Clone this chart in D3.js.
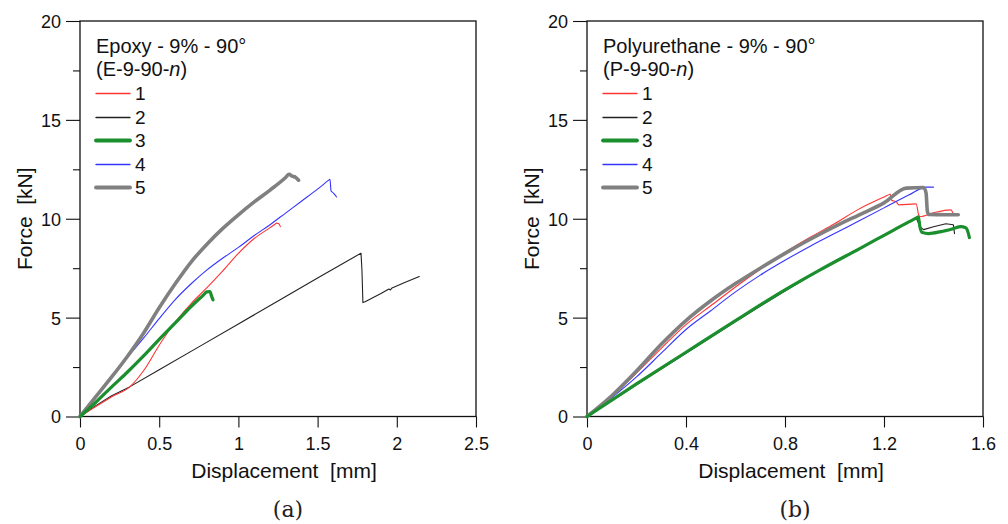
<!DOCTYPE html>
<html><head><meta charset="utf-8">
<script src="https://cdn.jsdelivr.net/npm/d3@7"></script>
<style>
html,body{margin:0;padding:0;background:#fff;}
svg{display:block;font-family:"Liberation Sans",Arial,sans-serif;}
</style></head>
<body>
<svg id="chart" width="1008" height="524"></svg>
<script>
// ---------- data ----------
const seriesNames = ["1","2","3","4","5"];
const seriesColors = ["#ff3434","#222222","#1b8f2e","#3434ff","#808080"];
const seriesWidths = [1.1,1.1,3.2,1.1,3.6];

// Panel (a) Epoxy - 9% - 90°
const eD1 = [0,0.1,0.2,0.316,0.4,0.5,0.58,0.7,0.8,0.9,1.0,1.1,1.2,1.235,1.24,1.255,1.265];
const eF1 = [0,0.5,1.0,1.51,2.3,3.6,4.55,5.7,6.5,7.35,8.25,9.0,9.55,9.75,9.78,9.75,9.6];
const eD2 = [0,0.1,0.2,0.316,0.5,0.75,1.0,1.25,1.5,1.774,1.78,1.786,1.8,1.9,1.95,1.96,1.97,2.05,2.142];
const eF2 = [0,0.55,1.05,1.51,2.36,3.52,4.68,5.84,7.0,8.26,7.4,5.76,5.8,6.22,6.45,6.4,6.5,6.78,7.08];
const eD3 = [0,0.1,0.2,0.3,0.4,0.5,0.6,0.7,0.78,0.8,0.82,0.83,0.84];
const eF3 = [0,0.72,1.5,2.25,3.05,3.9,4.72,5.55,6.15,6.3,6.32,6.1,5.9];
const eD4 = [0,0.1,0.2,0.3,0.4,0.5,0.6,0.7,0.8,0.9,1.0,1.1,1.2,1.3,1.4,1.5,1.57,1.578,1.585,1.6,1.62];
const eF4 = [0,1.0,2.0,3.0,3.95,4.95,5.9,6.7,7.4,8.0,8.55,9.15,9.7,10.3,10.9,11.5,11.95,12.0,11.4,11.3,11.1];
const eD5 = [0,0.1,0.2,0.3,0.4,0.5,0.6,0.7,0.8,0.9,1.0,1.1,1.2,1.3,1.32,1.34,1.36,1.38];
const eF5 = [0,1.0,2.0,3.05,4.2,5.5,6.7,7.8,8.7,9.5,10.2,10.85,11.45,12.1,12.25,12.15,12.1,11.95];

// Panel (b) Polyurethane - 9% - 90°
const pD1 = [0,0.1,0.2,0.3,0.4,0.5,0.6,0.7,0.8,0.9,1.0,1.1,1.2,1.22,1.225,1.23,1.25,1.26,1.33,1.34,1.345,1.4,1.47,1.48];
const pF1 = [0,1.0,2.2,3.45,4.65,5.6,6.55,7.45,8.3,9.05,9.75,10.5,11.1,11.22,11.25,10.95,10.85,10.7,10.75,10.2,10.1,10.3,10.45,10.25];
const pD2 = [0,0.2,0.4,0.6,0.8,1.0,1.2,1.33,1.345,1.36,1.4,1.45,1.48,1.485];
const pF2 = [0,1.6,3.2,4.8,6.35,7.85,9.15,10.05,9.6,9.45,9.6,9.75,9.7,9.25];
const pD3 = [0,0.2,0.4,0.6,0.8,0.94,1.1,1.2,1.3,1.335,1.339,1.345,1.355,1.38,1.43,1.48,1.51,1.53,1.54,1.545];
const pF3 = [0,1.65,3.25,4.85,6.4,7.4,8.48,9.16,9.84,10.07,10.1,9.6,9.3,9.25,9.35,9.5,9.6,9.55,9.3,9.05];
const pD4 = [0,0.1,0.2,0.3,0.4,0.5,0.6,0.7,0.8,0.9,1.0,1.1,1.2,1.3,1.37,1.4];
const pF4 = [0,0.95,2.0,3.2,4.4,5.35,6.3,7.15,7.9,8.6,9.25,9.9,10.55,11.2,11.6,11.6];
const pD5 = [0,0.1,0.2,0.3,0.4,0.5,0.6,0.7,0.8,0.9,1.0,1.1,1.2,1.29,1.36,1.37,1.375,1.38,1.45,1.5];
const pF5 = [0,1.05,2.3,3.65,4.85,5.85,6.72,7.5,8.25,8.95,9.6,10.2,10.8,11.55,11.58,11.3,10.4,10.22,10.2,10.2];

const yTicks = [0,2.5,5,7.5,10,12.5,15,17.5,20];
const yTickLabels = ["0","","5","","10","","15","","20"];
const xTicksA = [0,0.5,1,1.5,2,2.5];
const xTickLabelsA = ["0","0.5","1","1.5","2","2.5"];
const xTicksB = [0,0.4,0.8,1.2,1.6];
const xTickLabelsB = ["0","0.4","0.8","1.2","1.6"];

const panels = [
  {title:"Epoxy - 9% - 90°", code:"(E-9-90-", tag:"(a)", xmax:2.5, xticks:xTicksA, xlabels:xTickLabelsA,
   D:[eD1,eD2,eD3,eD4,eD5], F:[eF1,eF2,eF3,eF4,eF5],
   left:80, right:476, top:21, bottom:416.5},
  {title:"Polyurethane - 9% - 90°", code:"(P-9-90-", tag:"(b)", xmax:1.6, xticks:xTicksB, xlabels:xTickLabelsB,
   D:[pD1,pD2,pD3,pD4,pD5], F:[pF1,pF2,pF3,pF4,pF5],
   left:587, right:983, top:21, bottom:416.5}
];

const svg = d3.select("#chart");

panels.forEach(p => {
  const x = d3.scaleLinear().domain([0,p.xmax]).range([p.left,p.right]);
  const y = d3.scaleLinear().domain([0,20]).range([p.bottom,p.top]);
  const g = svg.append("g");

  // frame
  g.append("rect").attr("x",p.left).attr("y",p.top)
    .attr("width",p.right-p.left).attr("height",p.bottom-p.top)
    .attr("fill","none").attr("stroke","#111").attr("stroke-width",1.3);

  // y axis
  const yAx = d3.axisLeft(y).tickValues(yTicks)
    .tickFormat((d,i)=>yTickLabels[i]).tickSize(0).tickPadding(0);
  const yg = g.append("g").attr("transform",`translate(${p.left},0)`).call(yAx);
  yg.select(".domain").remove();
  yg.selectAll(".tick line").attr("x2",(d,i)=> yTickLabels[i] ? -14 : -7)
    .attr("stroke","#111").attr("stroke-width",1.1);
  yg.selectAll(".tick text").attr("x",-19).attr("dy","0.36em")
    .attr("font-size",18).attr("fill","#111")
    .attr("font-family","Liberation Sans, Arial, sans-serif");

  // x axis
  const xAx = d3.axisBottom(x).tickValues(p.xticks)
    .tickFormat((d,i)=>p.xlabels[i]).tickSize(11).tickPadding(10);
  const xg = g.append("g").attr("transform",`translate(0,${p.bottom})`).call(xAx);
  xg.select(".domain").remove();
  xg.selectAll(".tick line").attr("stroke","#111").attr("stroke-width",1.1);
  xg.selectAll(".tick text").attr("font-size",18).attr("fill","#111")
    .attr("font-family","Liberation Sans, Arial, sans-serif");

  // axis titles
  const cx = (p.left+p.right)/2;
  g.append("text").attr("x",cx+6).attr("y",478).attr("text-anchor","middle")
    .attr("font-size",21).attr("fill","#111").attr("xml:space","preserve")
    .text("Displacement  [mm]");
  const cy = (p.top+p.bottom)/2;
  g.append("text").attr("transform",`translate(${p.left-48},${cy}) rotate(-90)`)
    .attr("text-anchor","middle").attr("font-size",21).attr("fill","#111")
    .attr("xml:space","preserve").text("Force  [kN]");

  // panel tag
  g.append("text").attr("x",cx+10).attr("y",517).attr("text-anchor","middle")
    .attr("font-family","DejaVu Serif, Liberation Serif, serif")
    .attr("font-size",22).attr("fill","#222").text(p.tag);

  // curves
  const smooth = d3.line().x(d=>x(d[0])).y(d=>y(d[1])).curve(d3.curveMonotoneX);
  const straight = d3.line().x(d=>x(d[0])).y(d=>y(d[1])).curve(d3.curveLinear);
  const order = [1,0,3,4,2];
  order.forEach(i => {
    const pts = p.D[i].map((d,k)=>[d,p.F[i][k]]);
    g.append("path").datum(pts).attr("d", i===1 ? straight : smooth)
      .attr("fill","none").attr("stroke",seriesColors[i])
      .attr("stroke-width",seriesWidths[i]).attr("stroke-linejoin","round")
      .attr("stroke-linecap","round");
  });

  // legend
  const lx = p.left+16;
  g.append("text").attr("x",lx).attr("y",53).attr("font-size",20).attr("fill","#111").text(p.title);
  const t2 = g.append("text").attr("x",lx).attr("y",76).attr("font-size",20).attr("fill","#111");
  t2.append("tspan").text(p.code);
  t2.append("tspan").attr("font-style","italic").text("n");
  t2.append("tspan").text(")");
  seriesNames.forEach((nm,i)=>{
    const ly = Math.round(93 + i*23.5) + 0.5;
    g.append("line").attr("x1",lx).attr("x2",lx+34).attr("y1",ly).attr("y2",ly)
      .attr("stroke",seriesColors[i]).attr("stroke-width",i===2||i===4 ? 3.8 : 1.3)
      .attr("stroke-linecap","round");
    g.append("text").attr("x",lx+39).attr("y",ly).attr("dy","0.36em")
      .attr("font-size",19).attr("fill","#111").text(nm);
  });
});
</script>
</body></html>
